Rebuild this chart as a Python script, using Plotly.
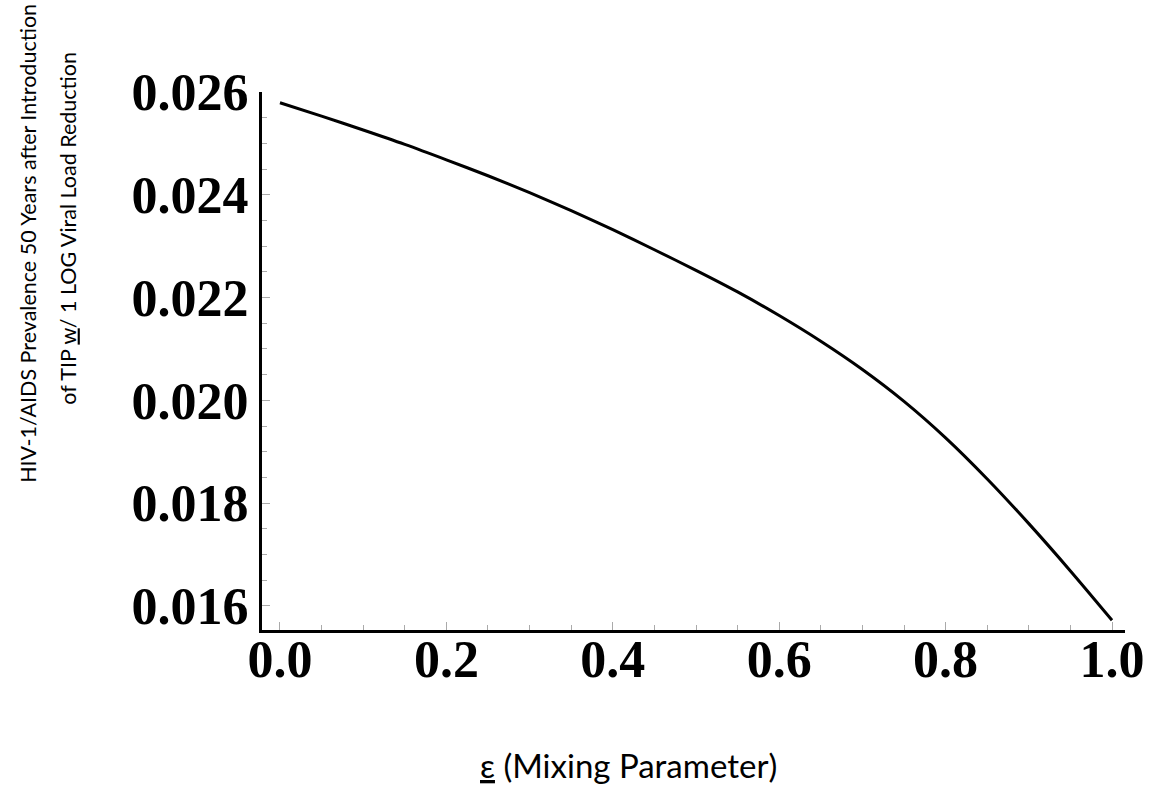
import plotly.graph_objects as go

# Data
eps = [0.00, 0.05, 0.10, 0.15, 0.20, 0.25, 0.30, 0.35, 0.40, 0.45, 0.50,
       0.55, 0.60, 0.65, 0.70, 0.75, 0.80, 0.85, 0.90, 0.95, 1.00]
prevalence = [0.02579, 0.02553, 0.02526, 0.02498, 0.02468, 0.02437, 0.02404,
              0.02369, 0.02332, 0.02293, 0.02253, 0.02211, 0.02165, 0.02115,
              0.02060, 0.01998, 0.01927, 0.01847, 0.01760, 0.01668, 0.01572]

x_ticks = [0.0, 0.2, 0.4, 0.6, 0.8, 1.0]
x_tick_labels = ["0.0", "0.2", "0.4", "0.6", "0.8", "1.0"]
y_ticks = [0.016, 0.018, 0.020, 0.022, 0.024, 0.026]
y_tick_labels = ["0.016", "0.018", "0.020", "0.022", "0.024", "0.026"]

y_title_lines = ["HIV-1/AIDS Prevalence 50 Years after Introduction",
                 "of TIP <u>w</u>/ 1 LOG Viral Load Reduction"]
x_title = "<u>ε</u> (Mixing Parameter)"

tick_font = dict(family="Liberation Serif", size=52, color="black", weight="bold")
title_family = "Lato, sans-serif"

# plot area in pixels: x 262..1128, y 92..630
L, R, T, B = 262, 1128, 92, 630
W, H = R - L, B - T

def px_x(p):
    return (p - L) / W

def px_y(p):
    return (B - p) / H

fig = go.Figure()
fig.add_trace(go.Scatter(x=eps, y=prevalence, mode="lines",
                         line=dict(color="black", width=3, shape="spline", smoothing=0.8),
                         showlegend=False, hoverinfo="skip"))

fig.update_layout(
    width=1156, height=794,
    margin=dict(l=L, r=1156 - R, t=T, b=794 - B),
    paper_bgcolor="white", plot_bgcolor="white",
    xaxis=dict(range=[-0.0216, 1.0156], tickvals=x_ticks, ticktext=x_tick_labels,
               showgrid=False, zeroline=False, showline=True, linecolor="black", linewidth=3,
               ticks="inside", ticklen=8, tickwidth=1, tickcolor="#aaaaaa",
               minor=dict(dtick=0.05, ticks="inside", ticklen=5, tickwidth=1,
                          tickcolor="#aaaaaa", showgrid=False),
               tickfont=tick_font, ticklabelstandoff=-18),
    yaxis=dict(range=[0.01553, 0.026], tickvals=y_ticks, ticktext=y_tick_labels,
               showgrid=False, zeroline=False, showline=True, linecolor="black", linewidth=3,
               ticks="inside", ticklen=8, tickwidth=1, tickcolor="#aaaaaa",
               minor=dict(dtick=0.0005, ticks="inside", ticklen=5, tickwidth=1,
                          tickcolor="#aaaaaa", showgrid=False),
               tickfont=tick_font, ticklabelstandoff=0),
)

fig.add_annotation(text=y_title_lines[0], xref="paper", yref="paper",
                   x=px_x(27), y=px_y(243), xanchor="center", yanchor="middle",
                   textangle=-90, showarrow=False,
                   font=dict(family=title_family, size=21.5, color="black"))
fig.add_annotation(text=y_title_lines[1], xref="paper", yref="paper",
                   x=px_x(67), y=px_y(228), xanchor="center", yanchor="middle",
                   textangle=-90, showarrow=False,
                   font=dict(family=title_family, size=21.5, color="black"))
fig.add_annotation(text=x_title, xref="paper", yref="paper",
                   x=px_x(630), y=px_y(765), xanchor="center", yanchor="middle",
                   showarrow=False, font=dict(family=title_family, size=33, color="black"))

fig.write_html("out.html")
